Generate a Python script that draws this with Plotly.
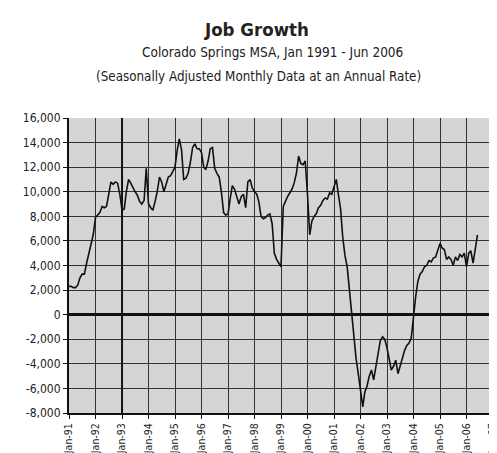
import plotly.graph_objects as go
import pandas as pd

# Monthly job growth, Jan 1991 - Jun 2006
values_1991 = [2300, 2300, 2200, 2200, 2400, 3000, 3300, 3300, 4200, 5000, 5600, 6500]
values_1992 = [7900, 8100, 8300, 8800, 8700, 8800, 9800, 10800, 10600, 10800, 10700, 9800]
values_1993 = [8500, 8600, 10000, 11000, 10700, 10300, 10000, 9700, 9200, 9000, 9300, 11900]
values_1994 = [9000, 8700, 8500, 9200, 10000, 11200, 10800, 10000, 10600, 11200, 11300, 11600]
values_1995 = [12000, 13400, 14300, 13400, 11000, 11100, 11500, 12400, 13600, 13900, 13500, 13500]
values_1996 = [13200, 12000, 11800, 12500, 13500, 13600, 11900, 11500, 11200, 10000, 8300, 8100]
values_1997 = [8200, 9500, 10500, 10200, 9600, 9000, 9600, 9800, 8700, 10800, 11000, 10300]
values_1998 = [10000, 9800, 9200, 8000, 7800, 7900, 8100, 8200, 7400, 5000, 4500, 4200]
values_1999 = [3900, 8800, 9200, 9600, 9900, 10200, 10700, 11500, 12900, 12300, 12200, 12500]
values_2000 = [9800, 6500, 7600, 8000, 8200, 8700, 8900, 9300, 9500, 9400, 9900, 9800]
values_2001 = [10400, 11000, 9800, 8600, 6300, 4800, 3900, 2000, 300, -1600, -3600, -4800]
values_2002 = [-6000, -7500, -6300, -5800, -5000, -4500, -5300, -4200, -3000, -2100, -1800, -2000]
values_2003 = [-2700, -3600, -4500, -4200, -3700, -4800, -4200, -3500, -2900, -2500, -2300, -1900]
values_2004 = [0, 1500, 2700, 3300, 3500, 3900, 4000, 4400, 4300, 4600, 4700, 5300]
values_2005 = [5800, 5400, 5300, 4500, 4700, 4500, 4000, 4700, 4400, 4900, 4700, 5000]
values_2006 = [3900, 5000, 5200, 4200, 5300, 6500]

job_growth = (values_1991 + values_1992 + values_1993 + values_1994 + values_1995
              + values_1996 + values_1997 + values_1998 + values_1999 + values_2000
              + values_2001 + values_2002 + values_2003 + values_2004 + values_2005
              + values_2006)
months = pd.date_range("1991-01-01", periods=len(job_growth), freq="MS")

y_tick_values = [16000, 14000, 12000, 10000, 8000, 6000, 4000, 2000, 0,
                 -2000, -4000, -6000, -8000]
y_tick_labels = ["16,000", "14,000", "12,000", "10,000", "8,000", "6,000", "4,000",
                 "2,000", "0", "-2,000", "-4,000", "-6,000", "-8,000"]
x_tick_dates = pd.date_range("1991-01-01", "2007-01-01", freq="YS")
x_tick_labels = [d.strftime("%b-%y") for d in x_tick_dates]

FONT = "DejaVu Sans Condensed, Liberation Sans Narrow, DejaVu Sans, sans-serif"

fig = go.Figure()
fig.add_trace(go.Scatter(x=months, y=job_growth, mode="lines",
                         line=dict(color="#111111", width=1.6),
                         showlegend=False, hoverinfo="skip"))

# thicker vertical gridline at Jan-93 seen in the reference
fig.add_shape(type="line", xref="x", yref="paper", x0="1993-01-01", x1="1993-01-01",
              y0=0, y1=1, line=dict(color="#111111", width=2), layer="above")

fig.update_layout(
    width=497, height=453,
    margin=dict(l=61, r=7, t=110, b=43),
    paper_bgcolor="white",
    plot_bgcolor="#d5d5d5",
    font=dict(family=FONT, size=10, color="#222222"),
    annotations=[
        dict(text="<b>Job Growth</b>", xref="paper", yref="paper", x=0.443, y=1.30,
             showarrow=False, font=dict(size=18.5, color="#222222"), xanchor="center", yanchor="middle"),
        dict(text="Colorado Springs MSA, Jan 1991 - Jun 2006", xref="paper", yref="paper",
             x=0.480, y=1.223, showarrow=False, font=dict(size=13.5, color="#222222"),
             xanchor="center", yanchor="middle"),
        dict(text="(Seasonally Adjusted Monthly Data at an Annual Rate)", xref="paper", yref="paper",
             x=0.448, y=1.14, showarrow=False, font=dict(size=13.3, color="#222222"),
             xanchor="center", yanchor="middle"),
    ],
)

fig.update_xaxes(
    range=["1991-01-01", "2007-01-01"],
    tickvals=x_tick_dates, ticktext=x_tick_labels, tickangle=-90,
    showgrid=True, gridcolor="#333333", gridwidth=1,
    showline=True, linecolor="#111111", linewidth=2,
    ticks="outside", ticklen=4, tickcolor="#111111",
    tickfont=dict(size=10.5), mirror=False,
)
fig.update_yaxes(
    range=[-8000, 16000],
    tickvals=y_tick_values, ticktext=y_tick_labels,
    showgrid=True, gridcolor="#333333", gridwidth=1,
    zeroline=True, zerolinecolor="#111111", zerolinewidth=2.5,
    showline=True, linecolor="#111111", linewidth=2,
    ticks="outside", ticklen=4, tickcolor="#111111",
    tickfont=dict(size=12),
)

fig.write_html("out.html")
